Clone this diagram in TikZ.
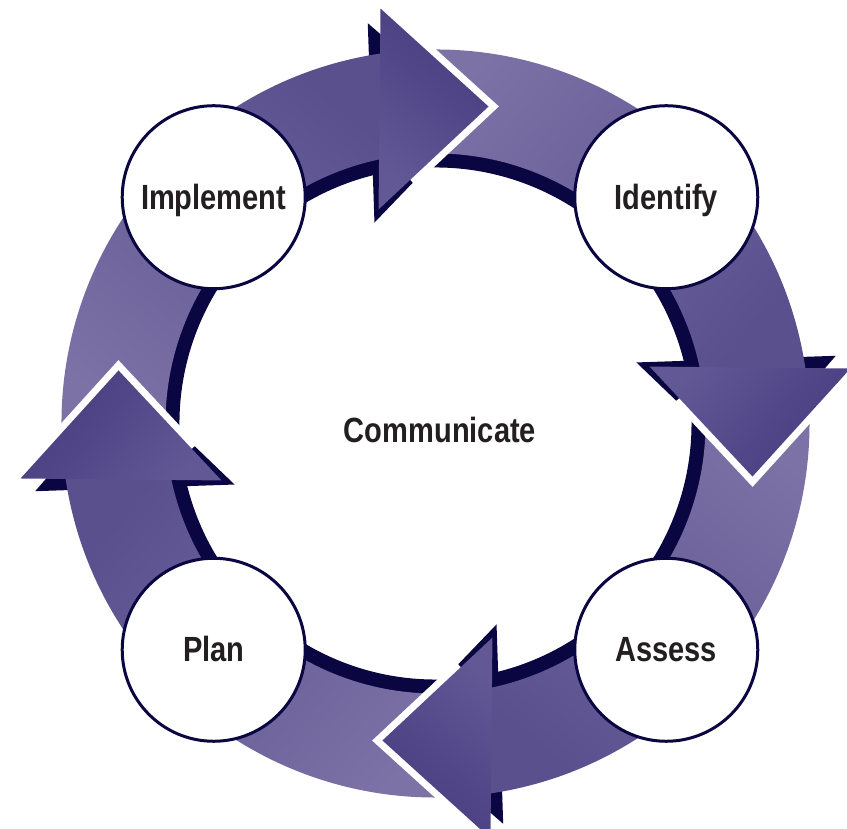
\documentclass[tikz,border=0pt]{standalone}
\usepackage{fontspec}
\newfontfamily\labelfont{Liberation Sans}[FakeStretch=0.83]

\definecolor{arrowlight}{RGB}{124,114,166}
\definecolor{arrowmid}{RGB}{90,80,142}
\definecolor{headlight}{RGB}{98,88,150}
\definecolor{arrowdark}{RGB}{70,60,127}
\definecolor{navyline}{RGB}{10,6,66}
\definecolor{textgray}{RGB}{35,31,32}

\tikzset{
  shaftfill/.style={top color=arrowmid, bottom color=arrowlight, shading angle=#1},
  headfill/.style={top color=arrowdark, bottom color=headlight, shading angle=#1},
  headrim/.style={draw=white, line width=14pt, line join=miter},
  stage/.style={circle, draw=navyline, line width=3pt, fill=white, minimum size=183pt,
    inner sep=0pt, text height=24pt, text depth=0pt, text=textgray,
    font=\labelfont\bfseries\fontsize{35}{40}\selectfont},
  hub/.style={inner sep=0pt, text height=24pt, text depth=0pt, text=textgray,
    font=\labelfont\bfseries\fontsize{35}{40}\selectfont}
}

\begin{document}
\begin{tikzpicture}[x=1pt, y=1pt]
\useasboundingbox (-440,-405.5) rectangle (407,423.5);

% One arrow of the ring, turned clockwise by #1 degrees
\def\shaft#1{({185-#1}:374) arc[start angle={185-#1}, end angle={96-#1}, radius=374pt]
  -- ({99-#1}:270) arc[start angle={99-#1}, end angle={185-#1}, radius=270pt] -- cycle}
\def\shaftshadow#1{({187-#1}:360) arc[start angle={187-#1}, end angle={98-#1}, radius=360pt]
  -- ({101-#1}:256) arc[start angle={101-#1}, end angle={187-#1}, radius=256pt] -- cycle}
\def\head#1{({97.55-#1}:418.6) -- ({80.5-#1}:321.4) -- ({104.9-#1}:221.5) -- cycle}
\def\headshadow#1{({99.6-#1}:406) -- ({82.5-#1}:309) -- ({106.9-#1}:210) -- cycle}
\def\headfront#1{({93.17-#1}:385) -- ({80.5-#1}:321.4) -- ({95.93-#1}:245)}

\begin{scope}[xshift=-4.5pt]
% Dark edges under the arrows
\fill[navyline] \headshadow{0};
\fill[navyline] \headshadow{90};
\fill[navyline] \headshadow{180};
\fill[navyline] \headshadow{270};
\fill[navyline] \shaftshadow{0};
\fill[navyline] \shaftshadow{90};
\fill[navyline] \shaftshadow{180};
\fill[navyline] \shaftshadow{270};

% Arrow bodies
\shade[shaftfill=-40] \shaft{0};
\shade[shaftfill=-130] \shaft{90};
\shade[shaftfill=140] \shaft{180};
\shade[shaftfill=50] \shaft{270};

% White rim where a head lies on the next arrow
\path[headrim] \headfront{0};
\path[headrim] \headfront{90};
\path[headrim] \headfront{180};
\path[headrim] \headfront{270};

% Arrow heads
\shade[headfill=-40] \head{0};
\shade[headfill=-130] \head{90};
\shade[headfill=140] \head{180};
\shade[headfill=50] \head{270};
\end{scope}

% Stages
\node[stage] (implement) at (135:320) {Implement};
\node[stage] (identify) at (45:320) {Identify};
\node[stage] (assess) at (-45:320) {Assess};
\node[stage] (plan) at (-135:320) {Plan};
\node[hub] (communicate) at (0,-7) {Communicate};
\end{tikzpicture}
\end{document}
